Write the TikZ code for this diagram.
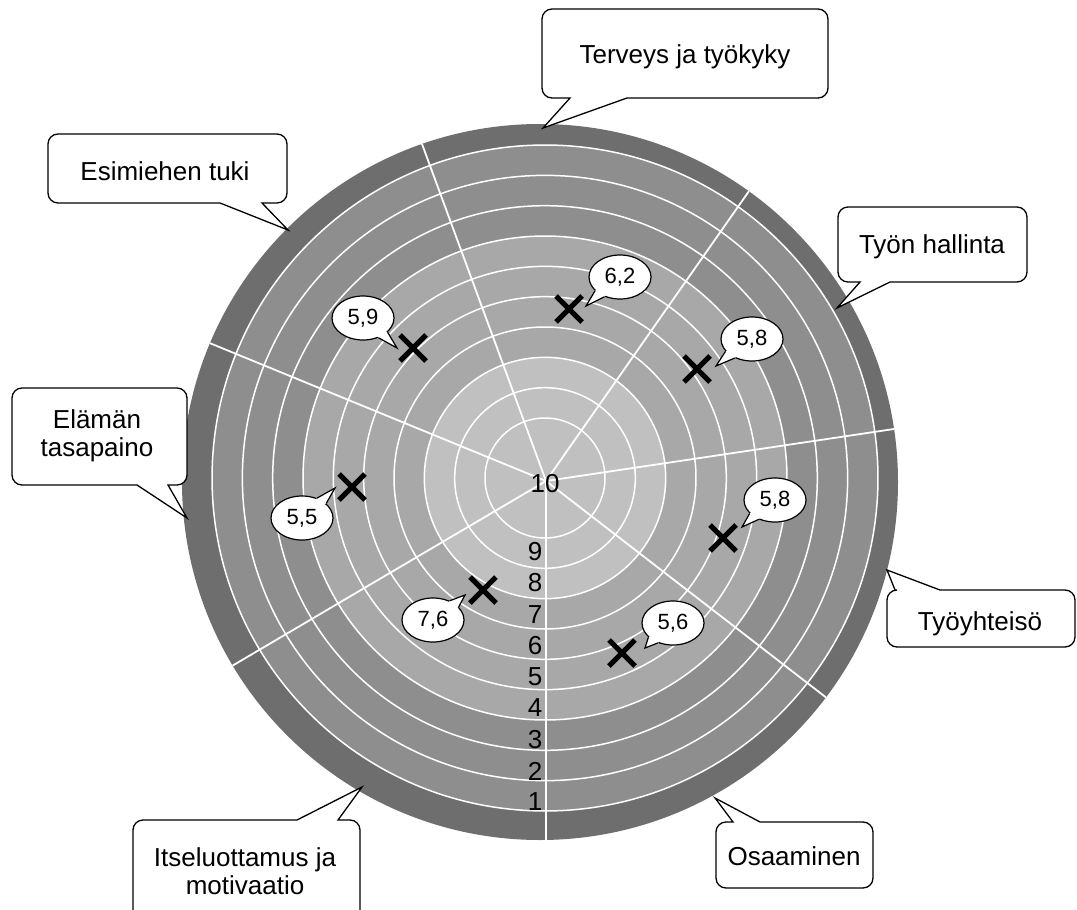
\documentclass[tikz,border=0pt]{standalone}
\usepackage{fontspec}
\setmainfont{Liberation Sans}
\usetikzlibrary{shapes.geometric,shapes.misc,calc}
\definecolor{bandgray}{HTML}{6E6E6E}
\definecolor{outergray}{HTML}{8E8E8E}
\definecolor{midgray}{HTML}{A8A8A8}
\definecolor{innergray}{HTML}{C0C0C0}

% callout box with tail on the bottom edge: L T R B x1 x2 tipx tipy
\newcommand{\mycallbottom}[8]{%
  \draw[labelbox] ({#1+10},#2) -- ({#3-10},#2) arc[start angle=90,end angle=0,radius=10pt]
    -- (#3,{#4-10}) arc[start angle=0,end angle=-90,radius=10pt]
    -- (#6,#4) -- (#7,#8) -- (#5,#4)
    -- ({#1+10},#4) arc[start angle=270,end angle=180,radius=10pt]
    -- (#1,{#2+10}) arc[start angle=180,end angle=90,radius=10pt] -- cycle;}
% callout box with tail on the top edge
\newcommand{\mycalltop}[8]{%
  \draw[labelbox] ({#1+10},#2) -- (#5,#2) -- (#7,#8) -- (#6,#2)
    -- ({#3-10},#2) arc[start angle=90,end angle=0,radius=10pt]
    -- (#3,{#4-10}) arc[start angle=0,end angle=-90,radius=10pt]
    -- ({#1+10},#4) arc[start angle=270,end angle=180,radius=10pt]
    -- (#1,{#2+10}) arc[start angle=180,end angle=90,radius=10pt] -- cycle;}
% value bubble: name cx cy text tipx tipy a1 a2
\newcommand{\myvalue}[8]{%
  \node[valbub] (#1) at (#2,#3) {#4};
  \coordinate (#1tip) at (#5,#6);
  \fill[white] (#1.#7) -- (#1tip) -- (#1.#8) -- ($(#1.center)!0.8!(#1.#8)$) -- ($(#1.center)!0.8!(#1.#7)$) -- cycle;
  \draw[bubtail] (#1.#7) -- (#1tip) -- (#1.#8);}

\begin{document}
\begin{tikzpicture}[x=1pt,y=-1pt,
  valbub/.style={ellipse, draw=black, fill=white, line width=1.2pt, minimum width=62pt, minimum height=44pt, inner sep=0pt, font=\fontsize{22}{25}\selectfont},
  bubtail/.style={draw=black, line width=1.2pt, line join=miter},
  labelbox/.style={draw=black, fill=white, line width=1.3pt},
  labeltext/.style={font=\fontsize{26}{28.5}\selectfont, align=center, inner sep=0pt},
  numlab/.style={font=\fontsize{26}{28}\selectfont, inner sep=0pt},
  xmark/.style={cross out, draw=black, line width=5pt, minimum size=21pt, inner sep=0pt},
  ringline/.style={draw=white, line width=1.5pt},
  sectorline/.style={draw=white, line width=1.8pt}]
\useasboundingbox (0,0) rectangle (1077,910);
\clip (0,0) rectangle (1077,910);
\fill[white] (0,0) rectangle (1077,910);

\coordinate (oc) at (540,482);
\coordinate (rc) at (545,478);
\coordinate (sc) at (546,481);

% disc and rings
\fill[bandgray] (oc) circle[radius=358pt];
\fill[outergray] (rc) circle[radius=333pt];
\fill[midgray] (rc) circle[radius=242pt];
\fill[innergray] (rc) circle[radius=120.7pt];
\foreach \k in {0,...,9} {\draw[ringline] (rc) circle[radius={60pt+30.33pt*\k}];}
\begin{scope}
  \clip (oc) circle[radius=358pt];
  \foreach \a in {110.2,55,8.5,-37.7,-90,210.5,157.7} {\draw[sectorline] (sc) -- ++(\a:420pt);}
\end{scope}

% scale numbers
\node[numlab] (n10) at (545,484) {10};
\node[numlab] (n9) at (535,552) {9};
\node[numlab] (n8) at (535,583) {8};
\node[numlab] (n7) at (535,614.5) {7};
\node[numlab] (n6) at (535,646) {6};
\node[numlab] (n5) at (535,677) {5};
\node[numlab] (n4) at (535,708) {4};
\node[numlab] (n3) at (535,739.5) {3};
\node[numlab] (n2) at (535,771) {2};
\node[numlab] (n1) at (535,802) {1};

% crosses
\node[xmark] (x62) at (569,309) {};
\node[xmark] (x59) at (413,348) {};
\node[xmark] (x58a) at (697,369) {};
\node[xmark] (x55) at (352,487) {};
\node[xmark] (x58b) at (723,538) {};
\node[xmark] (x76) at (483,590) {};
\node[xmark] (x56) at (622,653) {};

% value bubbles
\myvalue{v62}{620}{277}{6,2}{586}{306}{209}{232}
\myvalue{v59}{363}{318}{5,9}{397}{348}{-52}{-30}
\myvalue{v58a}{752}{339}{5,8}{716}{366}{205}{228}
\myvalue{v55}{302}{518}{5,5}{335}{488}{31}{53}
\myvalue{v58b}{775}{500}{5,8}{742}{527}{208}{230}
\myvalue{v76}{433}{620}{7,6}{465}{595}{27}{49}
\myvalue{v56}{673}{623}{5,6}{645}{648}{210}{233}

% label callouts
\mycallbottom{542}{9}{828}{98}{570}{627}{543}{128}
\node[labeltext, anchor=base] (terveys) at (685,63) {Terveys ja työkyky};
\mycallbottom{48}{134}{287}{203}{220}{262}{288}{230}
\node[labeltext, anchor=base] (esimies) at (165,180) {Esimiehen tuki};
\mycallbottom{12}{388}{187}{485}{137}{168}{187}{518}
\node[labeltext] (elama) at (97,436) {Elämän\\tasapaino};
\mycallbottom{838}{207}{1027}{282}{860}{890}{837}{308}
\node[labeltext, anchor=base] (tyonhallinta) at (932,253) {Työn hallinta};
\mycalltop{887}{590}{1075}{647}{895}{940}{887}{570}
\node[labeltext, anchor=base] (tyoyhteiso) at (980,630) {Työyhteisö};
\mycalltop{133}{820}{360}{930}{297}{338}{362}{787}
\node[labeltext] (itse) at (245,871) {Itseluottamus ja\\motivaatio};
\mycalltop{716}{822}{873}{888}{733}{760}{715}{798}
\node[labeltext, anchor=base] (osaaminen) at (794,865) {Osaaminen};
\end{tikzpicture}
\end{document}
